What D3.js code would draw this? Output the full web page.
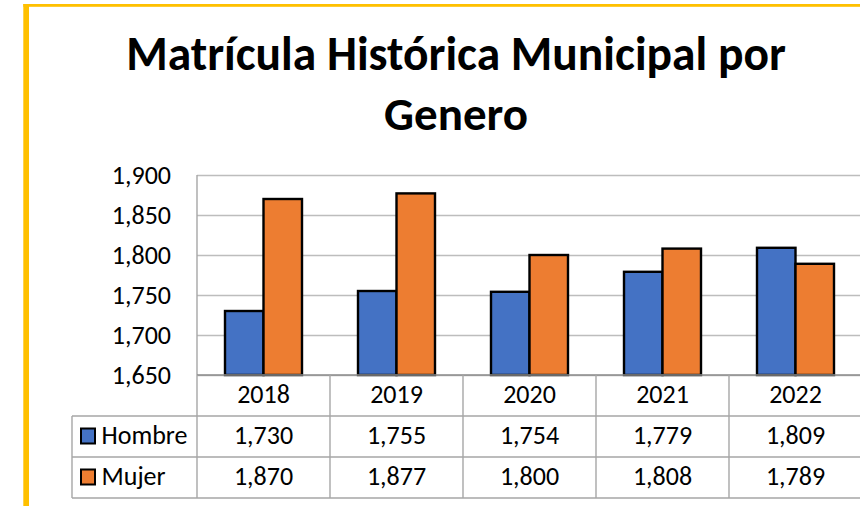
<!DOCTYPE html>
<html>
<head>
<meta charset="utf-8">
<script src="https://cdn.jsdelivr.net/npm/d3@7"></script>
<style>
  body { margin: 0; background: #fff; }
  text { font-family: Calibri, Carlito, "Open Sans", sans-serif; fill: #000; }
</style>
</head>
<body>
<div id="chart"></div>
<script>
// data
const years = ["2018", "2019", "2020", "2021", "2022"];
const seriesNames = ["Hombre", "Mujer"];
const hombre = [1730, 1755, 1754, 1779, 1809];
const mujer = [1870, 1877, 1800, 1808, 1789];
const yTicks = [1650, 1700, 1750, 1800, 1850, 1900];
const colors = ["#4472C4", "#ED7D31"];
const titleLines = ["Matrícula Histórica Municipal por", "Genero"];

const width = 860, height = 506;
const plot = {left: 197, right: 862, top: 175, bottom: 375};
const rowH = 41; // table rows
const tableLeft = 72;
const fs = 26;

const svg = d3.select("#chart").append("svg")
  .attr("width", width)
  .attr("height", height);

svg.append("rect").attr("width", width).attr("height", height).attr("fill", "#fff");

// yellow frame (left and top edges visible)
svg.append("rect").attr("x", 23.3).attr("y", 4).attr("width", width).attr("height", 2.8).attr("fill", "#FFC000");
svg.append("rect").attr("x", 23.3).attr("y", 4).attr("width", 5.7).attr("height", height).attr("fill", "#FFC000");

// title
const title = svg.append("g");
title.append("text")
  .attr("x", 456).attr("y", 70)
  .attr("text-anchor", "middle")
  .attr("font-weight", "bold").attr("font-size", 47.5)
  .text(titleLines[0]);
title.append("text")
  .attr("x", 456).attr("y", 129.5)
  .attr("text-anchor", "middle")
  .attr("font-weight", "bold").attr("font-size", 47)
  .text(titleLines[1]);

const x0 = d3.scaleBand().domain(years).range([plot.left, plot.right]);
const groupW = 77;
const x1 = d3.scaleBand().domain(seriesNames)
  .range([(x0.bandwidth() - groupW) / 2, (x0.bandwidth() + groupW) / 2]);
const y = d3.scaleLinear().domain([1650, 1900]).range([plot.bottom, plot.top]);

// gridlines + tick labels
const yAxis = svg.append("g")
  .attr("transform", "translate(" + plot.left + ",0)")
  .call(d3.axisLeft(y).tickValues(yTicks).tickFormat(d3.format(","))
    .tickSize(-(plot.right - plot.left)).tickPadding(26));
yAxis.select(".domain").remove();
yAxis.selectAll(".tick line").attr("stroke", "#bdbdbd").attr("stroke-width", 1.5);
yAxis.selectAll(".tick text")
  .attr("font-size", fs).attr("fill", "#000")
  .style("font-family", "Calibri, Carlito, 'Open Sans', sans-serif");

// left edge of plot
svg.append("line")
  .attr("x1", plot.left).attr("x2", plot.left)
  .attr("y1", plot.top).attr("y2", plot.bottom)
  .attr("stroke", "#a6a6a6").attr("stroke-width", 1.4);

// bars
const data = years.map((yr, i) => ({year: yr, values: [hombre[i], mujer[i]]}));
svg.append("g").selectAll("g")
  .data(data)
  .join("g")
    .attr("transform", d => "translate(" + x0(d.year) + ",0)")
  .selectAll("rect")
  .data(d => d.values.map((v, j) => ({name: seriesNames[j], value: v, j: j})))
  .join("rect")
    .attr("x", d => x1(d.name))
    .attr("y", d => y(d.value))
    .attr("width", x1.bandwidth())
    .attr("height", d => y(1650) - y(d.value))
    .attr("fill", d => colors[d.j])
    .attr("stroke", "#000")
    .attr("stroke-width", 2.4);

// data table
const table = svg.append("g");
const gridCol = "#a6a6a6";
// horizontal lines
table.append("line")
  .attr("x1", plot.left).attr("x2", plot.right)
  .attr("y1", plot.bottom).attr("y2", plot.bottom)
  .attr("stroke", "#8c8c8c").attr("stroke-width", 1.6);
[1, 2, 3].forEach(function(r){
  table.append("line")
    .attr("x1", tableLeft).attr("x2", plot.right)
    .attr("y1", plot.bottom + r * rowH).attr("y2", plot.bottom + r * rowH)
    .attr("stroke", gridCol).attr("stroke-width", 1.4);
});
// vertical lines
years.forEach(function(yr){
  table.append("line")
    .attr("x1", x0(yr)).attr("x2", x0(yr))
    .attr("y1", plot.bottom).attr("y2", plot.bottom + 3 * rowH)
    .attr("stroke", gridCol).attr("stroke-width", 1.4);
});
table.append("line")
  .attr("x1", tableLeft).attr("x2", tableLeft)
  .attr("y1", plot.bottom + rowH).attr("y2", plot.bottom + 3 * rowH)
  .attr("stroke", gridCol).attr("stroke-width", 1.4);

// year header
table.selectAll("text.year")
  .data(years)
  .join("text")
    .attr("class", "year")
    .attr("x", d => x0(d) + x0.bandwidth() / 2)
    .attr("y", plot.bottom + 28)
    .attr("text-anchor", "middle")
    .attr("font-size", fs)
    .text(d => d);

// value rows
const rows = [hombre, mujer];
rows.forEach(function(vals, r){
  const rowY = plot.bottom + (r + 1) * rowH;
  table.selectAll("text.v" + r)
    .data(vals)
    .join("text")
      .attr("class", "v" + r)
      .attr("x", (d, i) => x0(years[i]) + x0.bandwidth() / 2)
      .attr("y", rowY + 28)
      .attr("text-anchor", "middle")
      .attr("font-size", fs)
      .text(d => d3.format(",")(d));
  // legend key
  table.append("rect")
    .attr("x", 81).attr("y", rowY + 12.5)
    .attr("width", 14).attr("height", 15)
    .attr("fill", colors[r])
    .attr("stroke", "#000").attr("stroke-width", 2);
  table.append("text")
    .attr("x", 101.5).attr("y", rowY + 28)
    .attr("font-size", fs)
    .text(seriesNames[r]);
});
</script>
</body>
</html>
